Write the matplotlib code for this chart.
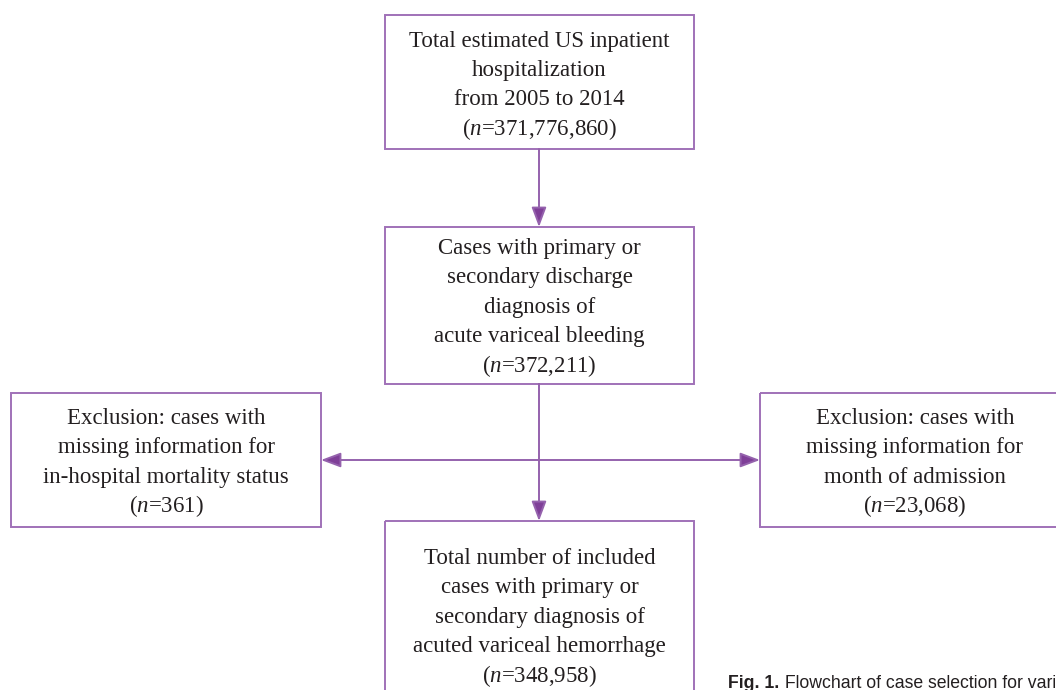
import matplotlib
matplotlib.use("Agg")
import matplotlib.pyplot as plt
from matplotlib.patches import Rectangle, FancyArrowPatch
from matplotlib import font_manager

plt.rcParams['mathtext.fontset'] = 'custom'
plt.rcParams['mathtext.it'] = 'Liberation Serif:italic'
plt.rcParams['mathtext.rm'] = 'Liberation Serif'

# ---- data ----
box_top_lines = ["Total estimated US inpatient", "hospitalization", "from 2005 to 2014"]
box_top_n = "371,776,860"
box_mid_lines = ["Cases with primary or", "secondary discharge", "diagnosis of", "acute variceal bleeding"]
box_mid_n = "372,211"
box_left_lines = ["Exclusion: cases with", "missing information for", "in-hospital mortality status"]
box_left_n = "361"
box_right_lines = ["Exclusion: cases with", "missing information for", "month of admission"]
box_right_n = "23,068"
box_bottom_lines = ["Total number of included", "cases with primary or", "secondary diagnosis of", "acuted variceal hemorrhage"]
box_bottom_n = "348,958"
caption_bold = "Fig. 1."
caption_text = "Flowchart of case selection for variceal hemorrhage."

EDGE = '#a071b8'
ARROW = '#7f3f98'
LINE = '#9562ad'
TEXT = '#231f20'

names = {f.name for f in font_manager.fontManager.ttflist}
cap_family = 'Liberation Sans Narrow' if 'Liberation Sans Narrow' in names else 'Liberation Sans'

fig = plt.figure(figsize=(10.56, 6.9), dpi=100)
ax = fig.add_axes([0, 0, 1, 1])
ax.set_xlim(0, 1056)
ax.set_ylim(690, 0)
ax.axis('off')

STEP = 29.4

def box(x0, y0, x1, y1, lines, n, first_baseline):
    ax.add_patch(Rectangle((x0, y0), x1 - x0, y1 - y0, fill=False,
                           edgecolor=EDGE, linewidth=1.4))
    allines = lines + [r"($\mathit{n}$=" + n + ")"]
    cx = (x0 + x1) / 2
    for i, s in enumerate(allines):
        ax.text(cx, first_baseline + i * STEP, s, ha='center', va='baseline',
                family='Liberation Serif', fontsize=16.5, color=TEXT)

box(385, 15, 694, 149, box_top_lines, box_top_n, 46.5)
box(385, 227, 694, 384, box_mid_lines, box_mid_n, 254)
box(11, 393, 321, 527, box_left_lines, box_left_n, 424)
box(760, 393, 1070, 527, box_right_lines, box_right_n, 424)
box(385, 521, 694, 720, box_bottom_lines, box_bottom_n, 564)

def arrow(p0, p1, style='-|>'):
    a = FancyArrowPatch(p0, p1, arrowstyle=style + ',head_length=12,head_width=4.5',
                        mutation_scale=1, color=LINE, linewidth=1.4,
                        shrinkA=0, shrinkB=0)
    a.set_facecolor(ARROW)
    a.set_edgecolor(LINE)
    ax.add_patch(a)

arrow((539, 149), (539, 227))
ax.plot([539, 539], [384, 460], color=LINE, linewidth=1.4)
arrow((539, 460), (539, 521))
arrow((321, 460), (760, 460), style='<|-|>')

t1 = ax.text(728, 688, caption_bold, ha='left', va='baseline',
             family=cap_family, fontsize=12.7, fontweight='bold', color=TEXT)
fig.canvas.draw()
bb = t1.get_window_extent(renderer=fig.canvas.get_renderer())
x_end = ax.transData.inverted().transform((bb.x1, bb.y0))[0]
ax.text(x_end + 1, 688, " " + caption_text, ha='left', va='baseline',
        family=cap_family, fontsize=12.7, color=TEXT)

fig.savefig("out.png", dpi=100)
